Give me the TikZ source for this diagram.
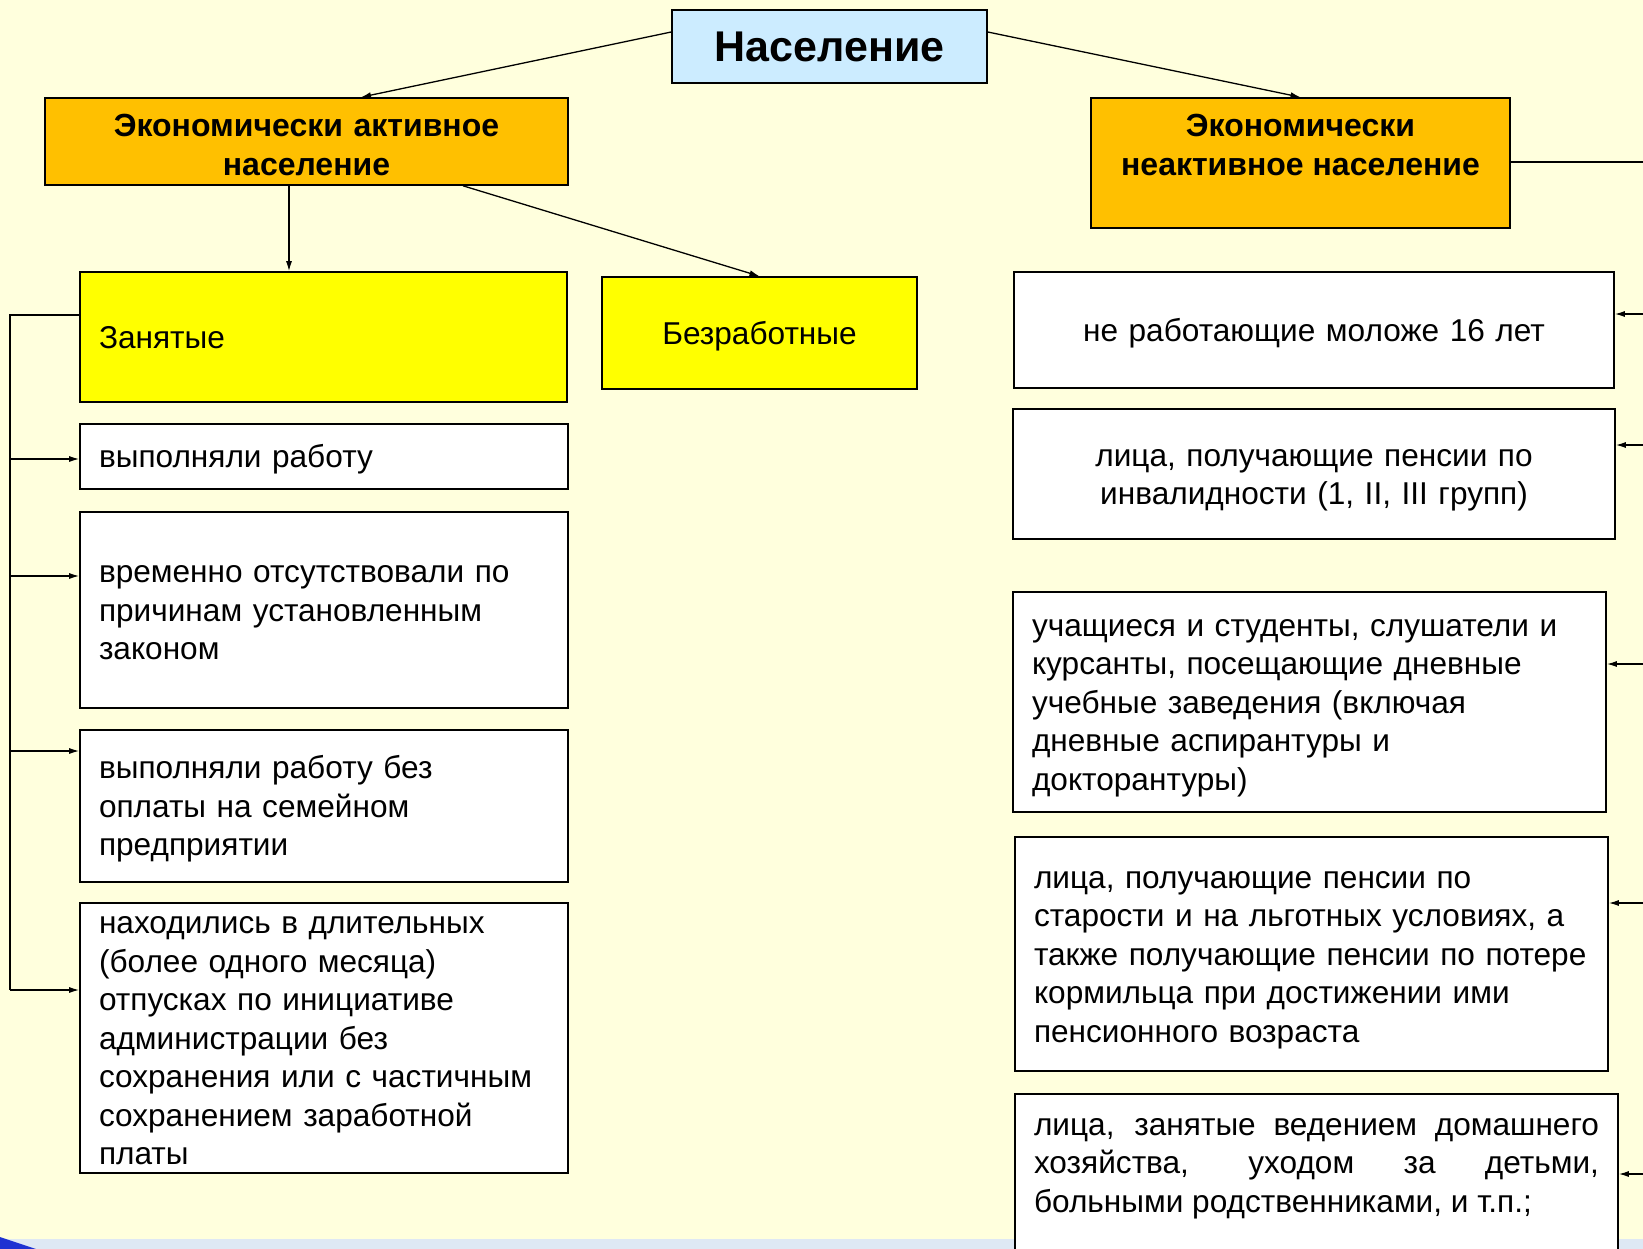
\documentclass[tikz,border=0pt]{standalone}
\usepackage{fontspec}
\setmainfont{Liberation Sans}
\usetikzlibrary{arrows.meta}

\definecolor{slidebg}{RGB}{255,255,221}
\definecolor{popblue}{RGB}{204,236,255}
\definecolor{actorange}{RGB}{255,192,0}
\definecolor{empyellow}{RGB}{255,255,0}
\definecolor{footband}{RGB}{222,232,244}
\definecolor{footblue}{RGB}{30,50,210}

% line box as the slide sets it
\newcommand\linestrut{\rule[-7.85pt]{0pt}{38.5pt}}
\newcommand\headstrut{\rule[-7.85pt]{0pt}{44.5pt}}

\tikzset{
  frame/.style={draw, line width=1.6pt, inner xsep=19pt, inner ysep=0pt},
  box/.style={frame, fill=white, align=left, font=\fontsize{31.6}{38.5}\selectfont,
    execute at begin node=\linestrut, execute at end node=\linestrut},
  headbox/.style={frame, fill=actorange, align=center, font=\bfseries\fontsize{32}{38.5}\selectfont,
    execute at begin node=\headstrut, execute at end node=\linestrut},
  link/.style={line width=1.3pt, -{Latex[length=10pt,width=6pt]}},
  bus/.style={line width=1.3pt},
}

\begin{document}
\begin{tikzpicture}[x=1pt,y=-1pt]
\fill[slidebg] (0,0) rectangle (1643,1249);
\useasboundingbox (0,0) rectangle (1643,1249);
\fill[footband] (0,1239) rectangle (1643,1249);
\fill[footblue] (0,1237) -- (36,1249) -- (0,1249) -- cycle;

% top level
\node[frame, fill=popblue, font=\bfseries\fontsize{43}{50}\selectfont,
      minimum width=315pt, minimum height=73pt] (nas) at (829.5,46.5) {Население};
\node[headbox, text width=485pt, minimum height=87pt] (akt) at (306.5,141.5)
  {Экономически активное\\население};
\node[frame, fill=actorange, font=\bfseries\fontsize{32}{38.5}\selectfont, inner ysep=8pt] (nea) at (1300.5,163)
  {\parbox[c][114pt][t]{381pt}{\centering\linestrut Экономически\par неактивное население}};

% active population
\node[box, fill=empyellow, text width=449pt, minimum height=130pt] (zan) at (323.5,337) {Занятые};
\node[box, fill=empyellow, text width=277pt, align=center, minimum height=112pt] (bez) at (759.5,333) {Безработные};
\node[box, text width=450pt, minimum height=65pt] (work) at (324,456.5) {выполняли работу};
\node[box, text width=450pt, minimum height=196pt] (absent) at (324,610)
  {временно отсутствовали по\\причинам установленным\\законом};
\node[box, text width=450pt, minimum height=152pt] (family) at (324,806)
  {выполняли работу без\\оплаты на семейном\\предприятии};
\node[box, text width=450pt, minimum height=268pt] (leave) at (324,1038)
  {находились в длительных\\(более одного месяца)\\отпусках по инициативе\\администрации без\\сохранения или с частичным\\сохранением заработной\\платы};

% inactive population
\node[box, text width=562pt, align=center, minimum height=116pt] (young) at (1314,330)
  {не работающие моложе 16 лет};
\node[box, text width=564pt, align=center, minimum height=130pt] (invalid) at (1314,474)
  {лица, получающие пенсии по\\инвалидности (1, II, III групп)};
\node[box, text width=555pt, minimum height=220pt] (stud) at (1309.5,702)
  {учащиеся и студенты, слушатели и\\курсанты, посещающие дневные\\учебные заведения (включая\\дневные аспирантуры и\\докторантуры)};
\node[box, text width=555pt, minimum height=234pt] (pens) at (1311.5,954)
  {лица, получающие пенсии по\\старости и на льготных условиях, а\\\mbox{также получающие пенсии по потере}\\кормильца при достижении ими\\пенсионного возраста};
\node[frame, fill=white, anchor=north, inner ysep=11pt, font=\fontsize{31.6}{38.5}\selectfont] (dom) at (1316.5,1093)
  {\parbox[c][170pt][t]{565pt}{\linestrut\makebox[565pt][s]{лица, занятые ведением домашнего}\par
   \makebox[565pt][s]{хозяйства, уходом за детьми,}\par
   больными родственниками, и т.п.;}};

% connectors
\draw[link] ([yshift=14.5pt]nas.west) -- ([xshift=54.5pt]akt.north);
\draw[link] ([yshift=14.5pt]nas.east) -- (nea.north);
\draw[link] ([xshift=-17.5pt]akt.south) -- ([xshift=-17.5pt]akt.south |- zan.north);
\draw[link] ([xshift=156.5pt]akt.south) -- (bez.north);

\coordinate (ltop) at (10,315);
\foreach \y/\n in {459/work, 576/absent, 751/family, 990/leave}{
  \coordinate (l\n) at (10,\y);
  \draw[link] (l\n) -- (l\n -| \n.west);
}
\draw[bus] (zan.west |- ltop) -- (ltop) -- (lleave);

\coordinate (rbus) at (1650,162);
\draw[bus] (nea.east |- rbus) -- (rbus);
\foreach \y/\n in {314/young, 445/invalid, 664/stud, 903/pens, 1174/dom}{
  \coordinate (r\n) at (1650,\y);
  \draw[link] (r\n) -- (r\n -| \n.east);
}
\draw[bus] (rbus) -- (rdom);
\end{tikzpicture}
\end{document}
